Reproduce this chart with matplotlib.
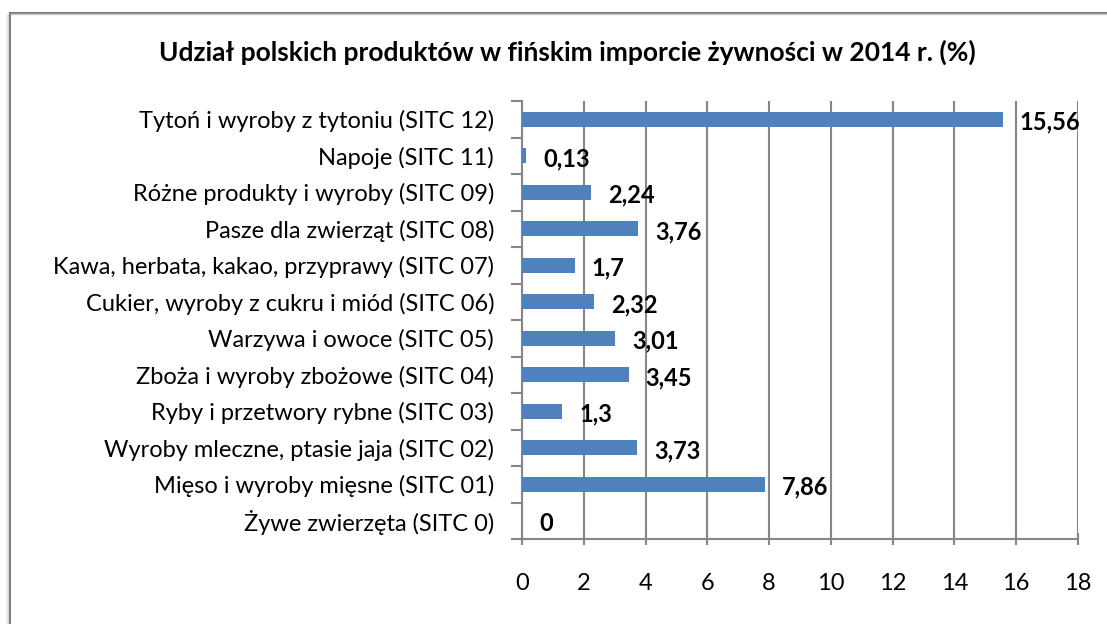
import matplotlib
matplotlib.use('Agg')
from matplotlib import pyplot as plt
from matplotlib.lines import Line2D
from matplotlib.ticker import FixedLocator

plt.rcParams['font.family'] = ['Lato', 'DejaVu Sans']

categories = ['Żywe zwierzęta (SITC 0)',
              'Mięso i wyroby mięsne (SITC 01)',
              'Wyroby mleczne, ptasie jaja (SITC 02)',
              'Ryby i przetwory rybne (SITC 03)',
              'Zboża i wyroby zbożowe (SITC 04)',
              'Warzywa i owoce (SITC 05)',
              'Cukier, wyroby z cukru i miód (SITC 06)',
              'Kawa, herbata, kakao, przyprawy (SITC 07)',
              'Pasze dla zwierząt (SITC 08)',
              'Różne produkty i wyroby (SITC 09)',
              'Napoje (SITC 11)',
              'Tytoń i wyroby z tytoniu (SITC 12)']
values = [0, 7.86, 3.73, 1.3, 3.45, 3.01, 2.32, 1.7, 3.76, 2.24, 0.13, 15.56]
labels = ['0', '7,86', '3,73', '1,3', '3,45', '3,01', '2,32', '1,7', '3,76', '2,24', '0,13', '15,56']
xticks = list(range(0, 20, 2))

W, H = 1107, 624
fig = plt.figure(figsize=(W/100, H/100), dpi=100)
ax = fig.add_axes([522/W, 85/H, 556/W, 438/H])

grey = '#868686'
ypos = list(range(len(categories)))
ax.barh(ypos, values, height=0.41, color='#4F81BD', linewidth=0, zorder=3)

# data labels
for y, v, t in zip(ypos, values, labels):
    ax.annotate(t, (v, y), xytext=(17, -3), textcoords='offset pixels',
                ha='left', va='center', fontsize=17, fontweight='bold', zorder=4)

ax.set_xlim(0, 18)
ax.set_ylim(-0.5, len(categories) - 0.5)
ax.set_xticks(xticks)
ax.set_xticklabels([str(x) for x in xticks], fontsize=17)
ax.set_yticks(ypos)
ax.set_yticklabels(categories, fontsize=17)
ax.yaxis.set_minor_locator(FixedLocator([i - 0.5 for i in range(len(categories) + 1)]))
ax.tick_params(axis='y', which='major', length=0, pad=20)
ax.tick_params(axis='y', which='minor', length=8, width=1.5, color=grey, direction='out')
ax.tick_params(axis='x', length=9, width=1.5, color=grey, direction='inout', pad=20)
ax.grid(axis='x', color=grey, linewidth=1.5, zorder=0)
ax.set_axisbelow(True)
for s in ['top', 'right']:
    ax.spines[s].set_visible(False)
for s in ['left', 'bottom']:
    ax.spines[s].set_color(grey)
    ax.spines[s].set_linewidth(1.5)
    ax.spines[s].set_zorder(2)

fig.text(567/W, 1 - 52/H, 'Udział polskich produktów w fińskim imporcie żywności w 2014 r. (%)',
         ha='center', va='center', fontsize=19, fontweight='bold')

# chart frame with soft shadow
def px(x0, y0, x1, y1, **kw):
    fig.add_artist(Line2D([x0/W, x1/W], [1 - y0/H, 1 - y1/H], transform=fig.transFigure, **kw))

for i, a in enumerate([0.08, 0.15, 0.25, 0.4]):
    px(6 + i, 14, 6 + i, H, color='#888888', alpha=a, linewidth=1)
px(9.5, 12.5, 9.5, H, color='#7f7f7f', linewidth=1.5)
px(9.5, 12.5, W, 12.5, color='#7f7f7f', linewidth=1.5)
px(11, 14, W, 14, color='#c8c8c8', linewidth=1)

fig.savefig('out.png', dpi=100)
